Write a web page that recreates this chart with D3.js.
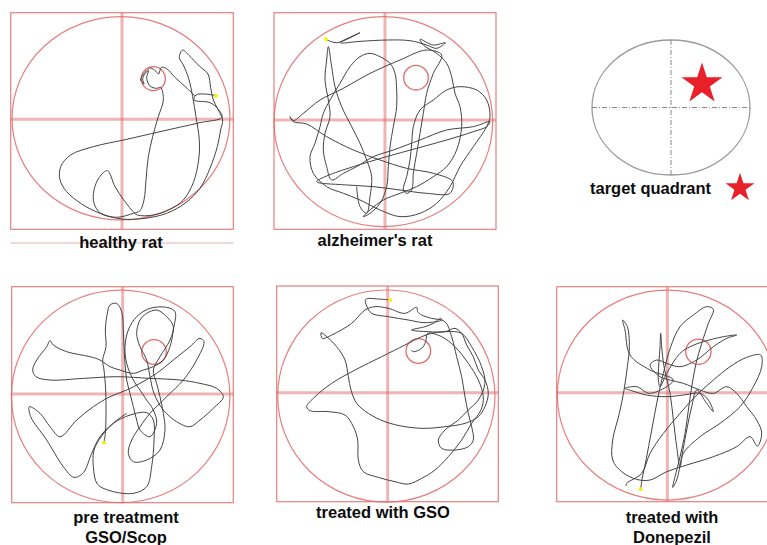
<!DOCTYPE html>
<html><head><meta charset="utf-8">
<script src="https://cdn.jsdelivr.net/npm/d3@7"></script>
<style>
html,body{margin:0;padding:0;background:#fff;}
svg{display:block;}
text{font-family:"Liberation Sans",Arial,sans-serif;font-weight:bold;fill:#0d0d0d;}
</style></head>
<body>
<svg id="chart" width="767" height="545"></svg>
<script>
// ---- Data: swim tracks in tracker coordinates (one arena per group) ----
const groups = ["healthy rat", "alzheimer's rat", "pre treatment\nGSO/Scop", "treated with GSO", "treated with\nDonepezil"];

// arena box [x0, y0, x1, y1] in tracker units
const arenaBoxes = [
  [32, 38, 700, 688],
  [42, 38, 708, 688],
  [35, 20, 700, 668],
  [35, 18, 700, 665],
  [50, 20, 716, 665]
];
// quadrant cross centre [x, y]
const crossCentres = [[366, 358], [375, 360], [368, 342], [368, 338], [382, 338]];
// pool ellipse [cx, cy, rx, ry]
const pools = [
  [363, 355, 327, 305],
  [370, 365, 328, 315],
  [362, 349, 328, 319],
  [364, 348, 326, 318],
  [382, 345, 330, 315]
];
// hidden platform [cx, cy, r]
const platforms = [[460, 236, 36], [468, 233, 37], [462, 216, 37], [460, 213, 37], [475, 215, 38]];

const healthyPath = [[648,287],[615,282],[588,285],[582,300],[630,308],[655,328],[666,352],[600,368],[480,395],[380,418],[280,440],[212,465],[182,500],[180,540],[200,575],[245,612],[300,640],[365,657],[435,655],[500,640],[555,610],[600,565],[630,505],[652,440],[662,390],[668,360],[655,330],[640,300],[632,262],[624,222],[598,198],[566,165],[548,150],[538,172],[550,195],[566,235],[578,290],[588,350],[598,420],[596,480],[580,548],[550,600],[510,628],[460,645],[412,645],[395,630],[370,598],[345,560],[322,512],[298,532],[282,570],[282,610],[302,640],[350,652],[400,640],[420,632],[432,600],[438,540],[445,470],[458,410],[475,350],[490,300],[482,262],[470,265],[450,258],[440,232],[446,212],[436,220],[428,236],[432,252],[422,240],[428,225],[440,212],[452,204],[468,214],[476,222],[484,202],[500,206],[525,232],[558,262],[585,288]];

const alzheimerPath = [[198,118],[230,128],[300,98],[240,128],[300,124],[380,120],[450,122],[500,135],[530,145],[556,128],[520,135],[480,118],[490,135],[530,160],[560,190],[575,230],[585,280],[600,320],[605,380],[590,450],[560,500],[520,530],[470,560],[420,580],[370,600],[330,630],[310,650],[330,640],[360,610],[380,560],[385,500],[390,440],[400,380],[410,320],[410,270],[405,220],[390,190],[360,170],[330,160],[300,170],[270,200],[240,250],[210,300],[190,340],[180,380],[165,430],[150,470],[160,520],[200,560],[250,580],[300,600],[360,630],[420,650],[480,640],[530,610],[570,560],[600,500],[640,440],[680,380],[690,350],[680,300],[650,270],[600,260],[560,270],[520,300],[480,330],[460,380],[455,430],[450,480],[440,530],[430,570],[440,580],[455,570],[460,520],[470,460],[480,400],[490,340],[500,280],[520,220],[545,165],[500,150],[420,180],[330,220],[250,265],[180,300],[130,340],[100,362],[90,350],[100,365],[140,372],[200,410],[280,450],[360,480],[440,505],[520,520],[578,545],[570,580],[500,580],[420,570],[340,560],[260,555],[170,545],[200,528],[280,500],[380,470],[470,445],[560,420],[640,395],[680,380],[690,365],[640,380],[560,390],[480,420],[400,450],[340,470],[290,500],[250,520],[215,540],[200,500],[190,450],[195,400],[210,350],[205,300],[195,240],[200,180],[205,140],[215,200],[225,260],[245,320],[275,380],[300,430],[320,480],[335,530],[330,590],[320,640],[300,620],[290,560]];

const preTreatmentPath = [[312,488],[316,460],[318,400],[317,330],[312,270],[308,240],[318,200],[316,150],[322,100],[330,75],[350,70],[365,95],[370,150],[372,200],[375,250],[380,300],[390,340],[400,380],[410,420],[420,450],[450,470],[470,430],[460,390],[440,360],[420,330],[400,300],[380,250],[375,200],[385,150],[410,110],[450,85],[500,82],[525,95],[520,150],[510,200],[490,240],[460,260],[430,270],[400,280],[360,270],[330,260],[300,240],[270,230],[200,215],[160,195],[150,182],[140,200],[110,240],[98,270],[108,290],[150,300],[250,295],[350,290],[450,295],[540,300],[600,310],[650,325],[670,350],[640,385],[600,420],[570,440],[530,425],[490,390],[462,340],[450,290],[440,240],[420,200],[410,160],[420,120],[440,100],[470,90],[500,110],[520,140],[510,180],[480,230],[460,270],[470,310],[480,350],[490,400],[495,450],[480,510],[440,540],[400,545],[385,520],[395,480],[420,440],[450,400],[500,350],[550,300],[590,240],[612,185],[600,175],[570,200],[520,240],[470,280],[420,310],[380,330],[330,350],[280,380],[230,420],[180,470],[150,440],[120,400],[88,380],[92,410],[140,480],[190,560],[222,592],[250,578],[275,520],[300,470],[340,430],[390,405],[440,398],[460,420],[462,480],[455,560],[440,620],[400,640],[330,632],[292,612],[280,560],[282,510],[305,468],[345,425],[380,400]];

const gsoPath = [[375,60],[340,57],[302,58],[305,78],[320,100],[370,110],[430,120],[480,128],[530,120],[528,115],[505,130],[480,140],[440,150],[490,155],[540,155],[570,145],[590,160],[605,195],[625,230],[640,270],[660,300],[670,340],[660,380],[640,410],[600,430],[540,440],[480,445],[420,440],[360,425],[310,400],[275,370],[258,330],[250,290],[240,240],[215,200],[185,170],[168,158],[172,175],[200,165],[260,130],[300,90],[330,80],[370,85],[420,100],[455,82],[458,95],[470,105],[500,115],[540,125],[560,170],[575,230],[590,290],[600,350],[610,400],[620,440],[625,480],[610,500],[570,510],[530,505],[520,480],[540,450],[580,420],[610,390],[640,360],[660,310],[650,260],[620,200],[590,160],[545,155],[500,160],[470,170],[420,195],[350,230],[270,270],[200,310],[150,350],[125,380],[135,392],[190,395],[240,405],[265,440],[278,480],[280,540],[295,575],[340,592],[390,605],[430,612],[470,595],[510,570],[550,530],[590,480],[620,430],[648,390],[655,350],[640,300],[610,250],[570,200],[530,170],[488,160],[482,185],[470,205],[445,215],[438,210]];

const donepezilPath = [[302,628],[306,598],[318,540],[335,450],[352,360],[370,280],[392,200],[420,140],[460,105],[500,80],[520,88],[505,130],[485,190],[468,250],[455,320],[445,390],[435,460],[420,530],[405,590],[398,622],[410,600],[425,530],[440,450],[455,380],[470,330],[500,370],[520,395],[505,360],[480,340],[430,345],[380,350],[320,345],[275,332],[255,325],[290,320],[330,340],[400,300],[330,270],[270,225],[255,150],[248,120],[262,140],[268,200],[262,260],[252,330],[238,400],[218,480],[218,540],[245,575],[290,598],[330,600],[380,575],[440,555],[520,530],[590,500],[630,470],[652,498],[665,460],[650,420],[620,380],[590,340],[560,320],[520,340],[480,330],[430,310],[390,300],[360,290],[330,255],[350,240],[380,250],[420,260],[470,240],[520,200],[560,175],[590,165],[550,170],[490,185],[450,200],[420,220],[380,280],[360,320],[355,300],[360,200],[362,160],[365,200],[372,260],[390,340],[400,420],[410,500],[420,560],[430,520],[480,470],[540,430],[600,380],[640,320],[665,260],[662,225],[620,232],[570,260],[520,300],[470,345],[420,400],[370,460],[330,520],[305,580],[260,610],[258,618]];

const tracks = [healthyPath, alzheimerPath, preTreatmentPath, gsoPath, donepezilPath];
const targetLabel = "target quadrant";

// ---- Layout (pixels) ----
const panelBoxes = [
  [10.7, 12.7, 233.3, 229.3],
  [274, 12.7, 496, 229.3],
  [11.7, 286.7, 233.3, 502.7],
  [276.7, 286, 498.3, 501.7],
  [556.7, 286.7, 778.7, 501.7]
];
const labelPos = [[121, 248], [375, 246], [126, 523], [383, 518], [672, 523]];
const lineGap = 20;
const fontSize = 16.5;

const svg = d3.select("#chart");
const red = "#e06a6a";

tracks.forEach((track, i) => {
  const b = arenaBoxes[i], p = panelBoxes[i];
  const x = d3.scaleLinear().domain([b[0], b[2]]).range([p[0], p[2]]);
  const y = d3.scaleLinear().domain([b[1], b[3]]).range([p[1], p[3]]);
  const g = svg.append("g");
  const c = crossCentres[i], pool = pools[i], pf = platforms[i];

  g.append("rect").attr("x", x(b[0])).attr("y", y(b[1]))
    .attr("width", x(b[2]) - x(b[0])).attr("height", y(b[3]) - y(b[1]))
    .attr("fill", "none").attr("stroke", red).attr("stroke-width", 1.2).attr("stroke-opacity", 0.85);
  g.append("line").attr("x1", x(c[0])).attr("x2", x(c[0])).attr("y1", y(b[1])).attr("y2", y(b[3]))
    .attr("stroke", red).attr("stroke-width", 3).attr("stroke-opacity", 0.5);
  g.append("line").attr("x1", x(b[0])).attr("x2", x(b[2])).attr("y1", y(c[1])).attr("y2", y(c[1]))
    .attr("stroke", red).attr("stroke-width", 3).attr("stroke-opacity", 0.5);
  g.append("ellipse").attr("cx", x(pool[0])).attr("cy", y(pool[1]))
    .attr("rx", x(pool[0] + pool[2]) - x(pool[0])).attr("ry", y(pool[1] + pool[3]) - y(pool[1]))
    .attr("fill", "none").attr("stroke", red).attr("stroke-width", 1.2).attr("stroke-opacity", 0.85);
  g.append("ellipse").attr("cx", x(pf[0])).attr("cy", y(pf[1]))
    .attr("rx", x(pf[0] + pf[2]) - x(pf[0])).attr("ry", y(pf[1] + pf[2]) - y(pf[1]))
    .attr("fill", "none").attr("stroke", red).attr("stroke-width", 1.3);
  const line = d3.line().x(d => x(d[0])).y(d => y(d[1])).curve(d3.curveCatmullRom.alpha(0.5));
  g.append("path").attr("d", line(track)).attr("fill", "none")
    .attr("stroke", "#444").attr("stroke-width", 1).attr("stroke-linejoin", "round");
  g.append("circle").attr("cx", x(track[0][0])).attr("cy", y(track[0][1])).attr("r", 2)
    .attr("fill", "#f2f20a");

  const lines = groups[i].split("\n");
  const lp = labelPos[i];
  if (i === 0) {
    svg.append("line").attr("x1", x(b[0])).attr("x2", x(b[2])).attr("y1", lp[1] - 5).attr("y2", lp[1] - 5)
      .attr("stroke", "#e3b0b0").attr("stroke-width", 1);
  }
  lines.forEach((t, k) => {
    svg.append("text").attr("x", lp[0]).attr("y", lp[1] + k * lineGap)
      .attr("text-anchor", "middle").attr("font-size", fontSize).text(t);
  });
});

// ---- target quadrant diagram ----
const tg = svg.append("g");
const tcx = 671, tcy = 107.5, trx = 79, try_ = 67.5;
tg.append("ellipse").attr("cx", tcx).attr("cy", tcy).attr("rx", trx).attr("ry", try_)
  .attr("fill", "none").attr("stroke", "#9a9a9a").attr("stroke-width", 1.3);
tg.append("line").attr("x1", tcx).attr("x2", tcx).attr("y1", tcy - try_).attr("y2", tcy + try_)
  .attr("stroke", "#888").attr("stroke-width", 1).attr("stroke-dasharray", "5,2,1,2");
tg.append("line").attr("x1", tcx - trx).attr("x2", tcx + trx).attr("y1", tcy).attr("y2", tcy)
  .attr("stroke", "#888").attr("stroke-width", 1).attr("stroke-dasharray", "5,2,1,2");
const star = d3.symbol().type(d3.symbolStar);
tg.append("path").attr("d", star.size(520)()).attr("transform", "translate(702,84)").attr("fill", "#e8202a");
tg.append("text").attr("x", 590).attr("y", 194).attr("font-size", fontSize).text(targetLabel);
tg.append("path").attr("d", star.size(260)()).attr("transform", "translate(740,188)").attr("fill", "#e8202a");
</script>
</body></html>
